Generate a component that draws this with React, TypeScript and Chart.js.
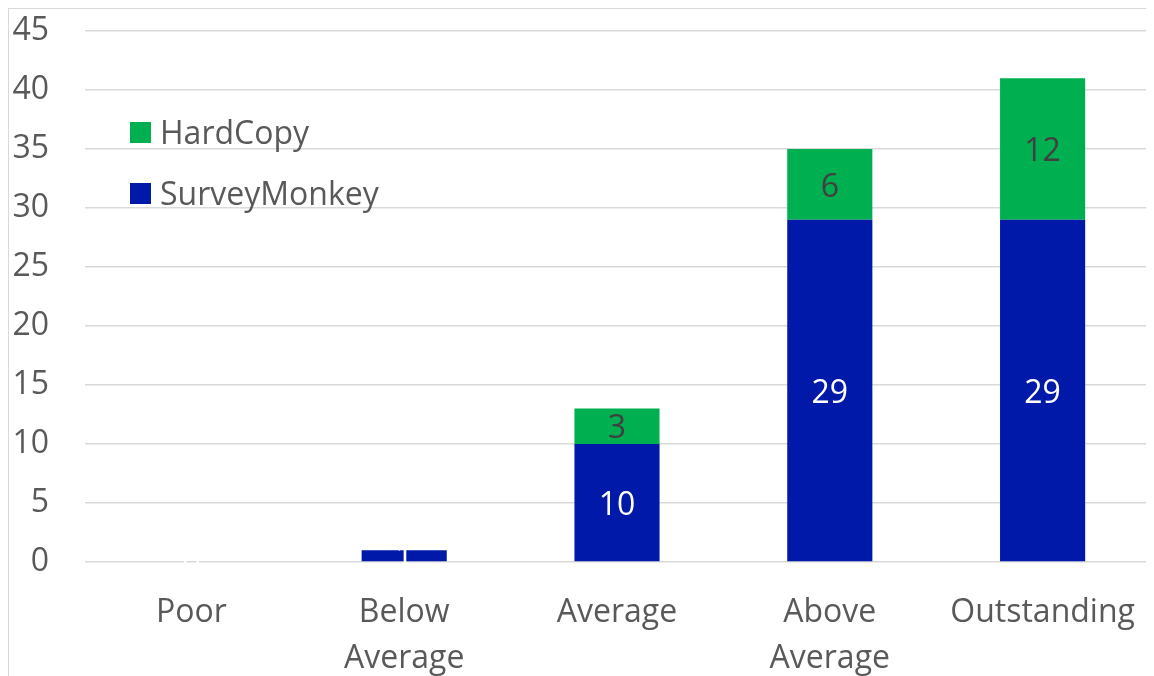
import React, { useEffect, useRef } from "react";
import { Chart, registerables } from "chart.js";

Chart.register(...registerables);

const categories: (string | string[])[] = [
  "Poor",
  ["Below", "Average"],
  "Average",
  ["Above", "Average"],
  "Outstanding",
];
const surveyMonkey: (number | null)[] = [0, 1, 10, 29, 29];
const hardCopy: (number | null)[] = [null, null, 3, 6, 12];
const yTicks = [0, 5, 10, 15, 20, 25, 30, 35, 40, 45];

const FONT = "'Open Sans', sans-serif";
const BLUE = "#0019A8";
const GREEN = "#00B050";
const TEXT = "#595959";

const labelPlugin = {
  id: "segLabels",
  afterDatasetsDraw(chart: any) {
    const ctx = chart.ctx;
    ctx.save();
    ctx.font = `32px ${FONT}`;
    ctx.textAlign = "center";
    ctx.textBaseline = "middle";
    chart.data.datasets.forEach((ds: any, di: number) => {
      const meta = chart.getDatasetMeta(di);
      meta.data.forEach((el: any, i: number) => {
        const v = ds.data[i];
        if (v === null || v === undefined) return;
        const cy = (el.y + el.base) / 2;
        ctx.fillStyle = ds.labelColor;
        ctx.fillText(String(v), el.x, cy + 3);
      });
    });
    ctx.restore();
  },
};

const legendPlugin = {
  id: "insideLegend",
  afterDatasetsDraw(chart: any) {
    const ctx = chart.ctx;
    const a = chart.chartArea;
    const items = [...chart.data.datasets].reverse();
    ctx.save();
    ctx.font = `32px ${FONT}`;
    ctx.textAlign = "left";
    ctx.textBaseline = "middle";
    items.forEach((ds: any, k: number) => {
      const top = a.top + 91 + k * 61;
      ctx.fillStyle = ds.backgroundColor;
      ctx.fillRect(a.left + 45, top, 21, 21);
      ctx.fillStyle = TEXT;
      ctx.fillText(ds.label, a.left + 75, top + 13);
    });
    ctx.restore();
  },
};

export default function App() {
  const ref = useRef<HTMLCanvasElement>(null);
  useEffect(() => {
    if (!ref.current) return;
    const chart = new Chart(ref.current, {
      type: "bar",
      data: {
        labels: categories as any,
        datasets: [
          {
            label: "SurveyMonkey",
            data: surveyMonkey,
            backgroundColor: BLUE,
            labelColor: "#FFFFFF",
            barPercentage: 0.4,
            categoryPercentage: 1,
          } as any,
          {
            label: "HardCopy",
            data: hardCopy,
            backgroundColor: GREEN,
            labelColor: "#404040",
            barPercentage: 0.4,
            categoryPercentage: 1,
          } as any,
        ],
      },
      options: {
        animation: false,
        responsive: false,
        layout: { padding: { top: 22, right: 5, left: 0, bottom: 0 } },
        plugins: {
          legend: { display: false },
          tooltip: { enabled: false },
        },
        scales: {
          x: {
            stacked: true,
            grid: { display: false, drawTicks: false },
            border: { display: false },
            ticks: {
              color: TEXT,
              font: { family: FONT, size: 32, lineHeight: 1.43 },
              padding: 28,
              maxRotation: 0,
              autoSkip: false,
            },
            afterFit: (s: any) => {
              s.height = 114;
              s.paddingLeft = 0;
              s.paddingRight = 0;
            },
          },
          y: {
            stacked: true,
            min: 0,
            max: 45,
            afterBuildTicks: (s: any) => {
              s.ticks = yTicks.map((v) => ({ value: v }));
            },
            grid: { color: "#D9D9D9", lineWidth: 1.5, drawTicks: false },
            border: { display: false },
            ticks: {
              color: TEXT,
              font: { family: FONT, size: 32 },
              padding: 36,
            },
            afterFit: (s: any) => {
              s.width = 76;
              s.paddingTop = 0;
              s.paddingBottom = 0;
            },
          },
        },
      },
      plugins: [labelPlugin, legendPlugin],
    });
    return () => chart.destroy();
  }, []);
  return (
    <div
      style={{
        width: 1145,
        height: 667,
        borderTop: "1px solid #D9D9D9",
        borderLeft: "1px solid #D9D9D9",
        background: "#fff",
      }}
    >
      <canvas ref={ref} width={1145} height={667} style={{ display: "block" }} />
    </div>
  );
}
